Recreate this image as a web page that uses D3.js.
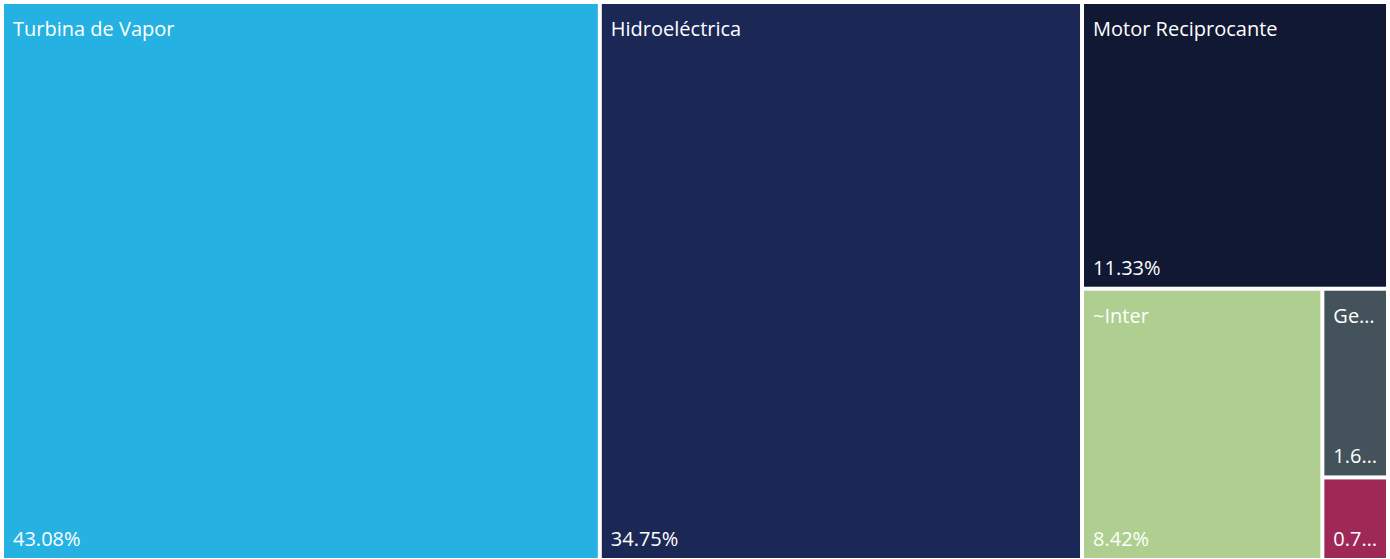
<!DOCTYPE html>
<html><head><meta charset="utf-8">
<script src="https://cdn.jsdelivr.net/npm/d3@7"></script>
<style>html,body{margin:0;padding:0;background:#fff;}svg{display:block;}</style>
</head><body>
<svg id="chart" width="1390" height="559"></svg>
<script>
const categories = ["Turbina de Vapor", "Hidroeléctrica", "Motor Reciprocante", "~Inter", "Geotérmica", "Turbina de Gas"];
const values = [43.08, 34.75, 11.33, 8.42, 1.60, 0.70];
const colors = ["#25B2E2", "#1B2856", "#111833", "#AECF8F", "#44525B", "#9F2956"];

const svg = d3.select("#chart");
const font = "'Segoe UI', 'Open Sans', sans-serif";

const root = d3.hierarchy({children: categories.map((c, i) => ({name: c, value: values[i], color: colors[i]}))})
  .sum(d => d.value || 0);
d3.treemap().tile(d3.treemapSquarify.ratio(1)).size([1382, 554]).paddingInner(4)(root);

const g = svg.append("g").attr("transform", "translate(4,4)");
const cell = g.selectAll("g.cell").data(root.leaves()).join("g").attr("class", "cell")
  .attr("transform", d => `translate(${d.x0},${d.y0})`);
cell.append("rect").attr("width", d => d.x1 - d.x0).attr("height", d => d.y1 - d.y0)
  .attr("fill", d => d.data.color);

function fit(textSel, str, maxW) {
  textSel.text(str);
  if (textSel.node().getComputedTextLength() <= maxW) return;
  for (let n = str.length - 1; n > 0; n--) {
    textSel.text(str.slice(0, n) + "…");
    if (textSel.node().getComputedTextLength() <= maxW) return;
  }
  textSel.text("");
}
const fmt = v => v.toFixed(2) + "%";
cell.each(function(d) {
  const w = d.x1 - d.x0, h = d.y1 - d.y0;
  const sel = d3.select(this);
  if (h > 120) {
    const t = sel.append("text").attr("x", 9).attr("y", 32)
      .attr("fill", "#fff").style("font-family", font).style("font-size", "20px");
    fit(t, d.data.name, w - 11);
  }
  const v = sel.append("text").attr("x", 9).attr("y", h - 12)
    .attr("fill", "#fff").style("font-family", font).style("font-size", "20px");
  fit(v, fmt(d.data.value), w - 11);
});
</script>
</body></html>
